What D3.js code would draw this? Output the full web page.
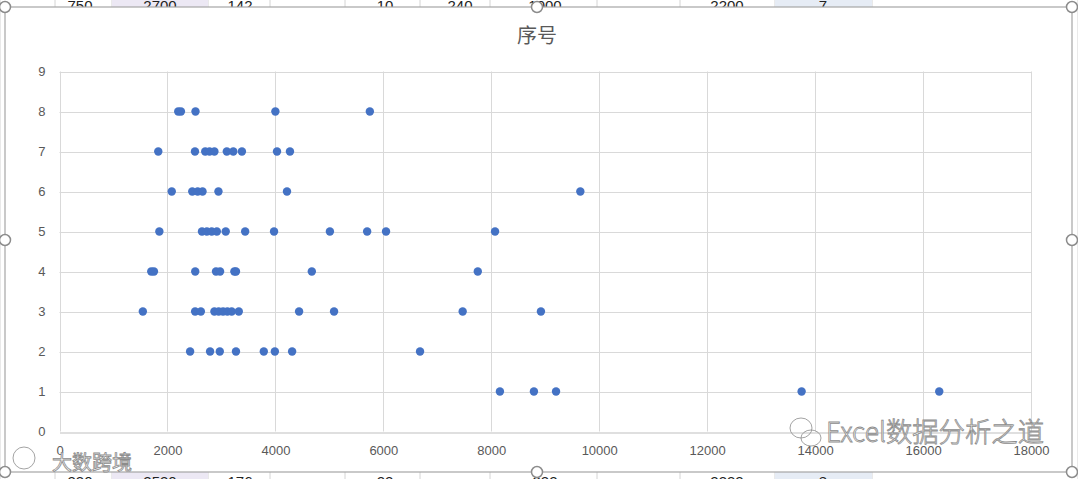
<!DOCTYPE html>
<html><head><meta charset="utf-8">
<script src="https://cdn.jsdelivr.net/npm/d3@7"></script>
<style>html,body{margin:0;padding:0;background:#fff;}svg{display:block;}</style>
</head><body>
<svg id="c" width="1078" height="479"></svg>
<script>
// Data: x = sales value, y = 序号
const seriesX = [
  2200, 2250, 2520, 4000, 5750,
  1830, 2510, 2700, 2780, 2870, 3100, 3220, 3380, 4030, 4270,
  2080, 2460, 2560, 2650, 2945, 4215, 9650,
  1850, 2640, 2730, 2820, 2915, 3080, 3440, 3975, 5010, 5700, 6050, 8070,
  1700, 1750, 2515, 2900, 2975, 3240, 3270, 4675, 7750,
  1544, 2513, 2619, 2870, 2950, 3030, 3110, 3190, 3322, 4439, 5087, 7470, 8920,
  2420, 2790, 2970, 3270, 3785, 3990, 4310, 6680,
  8160, 8790, 9200, 13750, 16300
];
const seriesY = [
  8, 8, 8, 8, 8,
  7, 7, 7, 7, 7, 7, 7, 7, 7, 7,
  6, 6, 6, 6, 6, 6, 6,
  5, 5, 5, 5, 5, 5, 5, 5, 5, 5, 5, 5,
  4, 4, 4, 4, 4, 4, 4, 4, 4,
  3, 3, 3, 3, 3, 3, 3, 3, 3, 3, 3, 3, 3,
  2, 2, 2, 2, 2, 2, 2, 2,
  1, 1, 1, 1, 1
];
const xTicks = [0, 2000, 4000, 6000, 8000, 10000, 12000, 14000, 16000, 18000];
const yTicks = [0, 1, 2, 3, 4, 5, 6, 7, 8, 9];
const chartTitle = "序号";

const svg = d3.select("#c");
const W = 1078, H = 479;

// spreadsheet background strips
const bg = svg.append("g");
const cols = [0, 55, 112, 208, 270, 345, 420, 490, 597, 680, 775, 872, 1078];
cols.forEach(cx => {
  bg.append("line").attr("x1", cx).attr("x2", cx).attr("y1", 0).attr("y2", H)
    .attr("stroke", "#d4d4d4");
});
bg.append("rect").attr("x", 112).attr("y", 0).attr("width", 96).attr("height", H).attr("fill", "#ece8f4");
bg.append("rect").attr("x", 775).attr("y", 0).attr("width", 97).attr("height", H).attr("fill", "#e6ecf5");
const topTxt = [["750", 80], ["2700", 160], ["142", 240], ["10", 385], ["240", 460], ["1000", 545], ["2200", 727], ["7", 823]];
const botTxt = [["330", 80], ["2530", 160], ["176", 240], ["22", 385], ["332", 545], ["2332", 727], ["8", 823]];
topTxt.forEach(t => bg.append("text").attr("x", t[1]).attr("y", 11).attr("text-anchor", "middle")
  .attr("font-family", "Liberation Sans, Arial").attr("font-size", 15).attr("fill", "#222").text(t[0]));
botTxt.forEach(t => bg.append("text").attr("x", t[1]).attr("y", 487).attr("text-anchor", "middle")
  .attr("font-family", "Liberation Sans, Arial").attr("font-size", 15).attr("fill", "#222").text(t[0]));

// chart frame
svg.append("rect").attr("x", 5).attr("y", 7).attr("width", 1067).attr("height", 465)
  .attr("fill", "#fff").attr("stroke", "#a6a6a6").attr("stroke-width", 1.2);

const m = {l: 59.5, r: 1031, t: 71.5, b: 431.5};
const x = d3.scaleLinear().domain([0, 18000]).range([m.l, m.r]);
const y = d3.scaleLinear().domain([0, 9]).range([m.b, m.t]);

// gridlines
const g = svg.append("g");
g.selectAll("line.h").data(yTicks.slice(1)).join("line")
  .attr("x1", m.l).attr("x2", m.r).attr("y1", d => Math.round(y(d)) + 0.5).attr("y2", d => Math.round(y(d)) + 0.5)
  .attr("stroke", "#d9d9d9");
g.selectAll("line.v").data(xTicks).join("line")
  .attr("y1", m.t).attr("y2", m.b).attr("x1", d => Math.round(x(d)) + 0.5).attr("x2", d => Math.round(x(d)) + 0.5)
  .attr("stroke", "#d9d9d9");

// axes
const xAxis = d3.axisBottom(x).tickValues(xTicks).tickSize(0).tickPadding(13).tickFormat(d3.format("d"));
const yAxis = d3.axisLeft(y).tickValues(yTicks).tickSize(0).tickPadding(14).tickFormat(d3.format("d"));
const gx = svg.append("g").attr("transform", `translate(0,${Math.round(m.b) + 0.5})`).call(xAxis);
const gy = svg.append("g").attr("transform", `translate(${m.l},0)`).call(yAxis);
gx.select(".domain").attr("stroke", "#bfbfbf");
gy.select(".domain").remove();
[gx, gy].forEach(a => a.selectAll("text").attr("fill", "#595959")
  .attr("font-family", "Liberation Sans, Arial").attr("font-size", 13));

// points
svg.append("g").selectAll("circle").data(seriesX.map((v, i) => [v, seriesY[i]])).join("circle")
  .attr("cx", d => x(d[0])).attr("cy", d => y(d[1])).attr("r", 4.2).attr("fill", "#4472c4");

// title
svg.append("text").attr("x", 537).attr("y", 43).attr("text-anchor", "middle")
  .attr("font-family", "Noto Sans CJK SC").attr("font-size", 20).attr("fill", "#595959").text(chartTitle);

// watermarks
const wm = svg.append("g").attr("font-family", "Noto Sans CJK SC").attr("fill", "#f2f2f2")
  .attr("stroke", "#8c8c8c").attr("stroke-width", 0.8);
wm.append("text").attr("x", 826).attr("y", 442).attr("font-size", 27).attr("font-weight", 300)
  .attr("textLength", 218).attr("lengthAdjust", "spacingAndGlyphs").text("Excel数据分析之道");
wm.append("ellipse").attr("cx", 801).attr("cy", 428).attr("rx", 11).attr("ry", 10).attr("fill", "none");
wm.append("ellipse").attr("cx", 811).attr("cy", 438).attr("rx", 10).attr("ry", 8).attr("fill", "none");
wm.append("text").attr("x", 52).attr("y", 470).attr("font-size", 20).text("大数跨境");
wm.append("circle").attr("cx", 24).attr("cy", 458).attr("r", 11).attr("fill", "none");

// selection handles
const hx = [5, 537, 1072], hy = [7, 240, 472];
const handles = [];
hx.forEach(a => hy.forEach(b => { if (!(a === 537 && b === 240)) handles.push([a, b]); }));
svg.append("g").selectAll("circle").data(handles).join("circle")
  .attr("cx", d => d[0]).attr("cy", d => d[1]).attr("r", 5.5)
  .attr("fill", "#fff").attr("stroke", "#8c8c8c").attr("stroke-width", 1.5);
</script>
</body></html>
